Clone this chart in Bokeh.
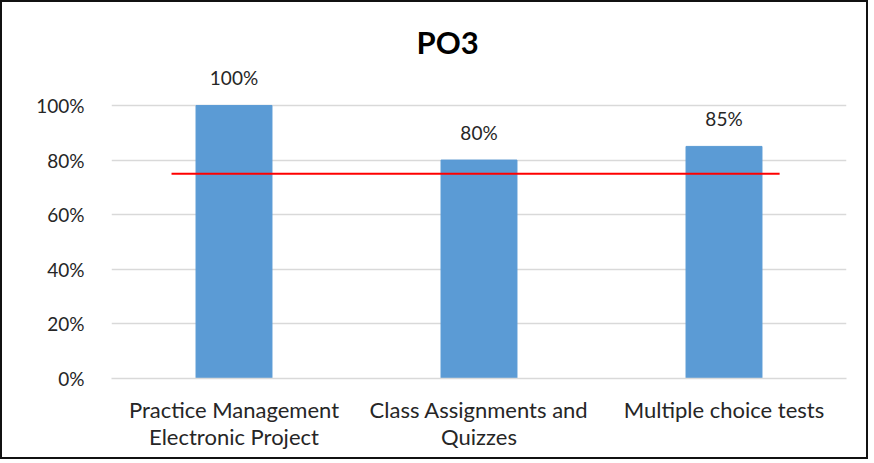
from bokeh.plotting import figure
from bokeh.models import (ColumnDataSource, FactorRange, Range1d, FixedTicker,
                          LabelSet, NumeralTickFormatter, Title)
from bokeh.core.properties import value
from bokeh.embed import file_html
from bokeh.resources import INLINE

categories = ["Practice Management\nElectronic Project",
              "Class Assignments and\nQuizzes",
              "Multiple choice tests"]
values = [1.00, 0.80, 0.85]
value_labels = ["100%", "80%", "85%"]
target = 0.75
y_ticks = [0, 0.2, 0.4, 0.6, 0.8, 1.0]

FONT = "Lato"

src = ColumnDataSource(dict(cat=categories, val=values, lab=value_labels))

p = figure(x_range=FactorRange(factors=categories, range_padding=0),
           y_range=Range1d(0, 1.15),
           width=864, height=455,
           frame_width=735, frame_height=314,
           min_border_left=109, min_border_right=20,
           min_border_top=62, min_border_bottom=79,
           output_backend="svg", toolbar_location=None,
           background_fill_color="white", border_fill_color="white")
p.styles = {"border": "2px solid #111111", "box-sizing": "border-box"}

p.title = Title(text="PO3", align="left", text_font=FONT,
                text_font_size="31px", text_font_style="bold",
                text_color="#000000", standoff=8, offset=305)

p.vbar(x="cat", top="val", width=0.31, source=src,
       fill_color="#5B9BD5", line_color="#5B9BD5")

p.segment(x0=[0.245], x1=[2.727], y0=[target], y1=[target],
          line_color="#FF0000", line_width=2)

labels = LabelSet(x="cat", y="val", text="lab", source=src,
                  text_align="center", text_baseline="bottom",
                  y_offset=16, text_font=value(FONT), text_font_size="19px",
                  text_color="#262626")
p.add_layout(labels)

p.outline_line_color = None
p.xgrid.grid_line_color = None
p.ygrid.grid_line_color = "#D9D9D9"
p.ygrid.grid_line_width = 1.5
p.ygrid.ticker = FixedTicker(ticks=y_ticks)

p.yaxis.ticker = FixedTicker(ticks=y_ticks)
p.yaxis.formatter = NumeralTickFormatter(format="0%")
p.yaxis.axis_line_color = None
p.yaxis.major_tick_line_color = None
p.yaxis.minor_tick_line_color = None
p.yaxis.major_label_standoff = 21
p.yaxis.major_label_text_font = FONT
p.yaxis.major_label_text_font_size = "19px"
p.yaxis.major_label_text_color = "#262626"

p.xaxis.axis_line_color = "#D9D9D9"
p.xaxis.axis_line_width = 1.5
p.xaxis.major_tick_line_color = None
p.xaxis.minor_tick_line_color = None
p.xaxis.major_label_standoff = 11
p.xaxis.major_label_text_font = FONT
p.xaxis.major_label_text_font_size = "22px"
p.xaxis.major_label_text_line_height = 1.0
p.xaxis.major_label_text_color = "#262626"
p.xaxis.major_label_orientation = "horizontal"

open("out.html", "w").write(file_html(p, INLINE))
